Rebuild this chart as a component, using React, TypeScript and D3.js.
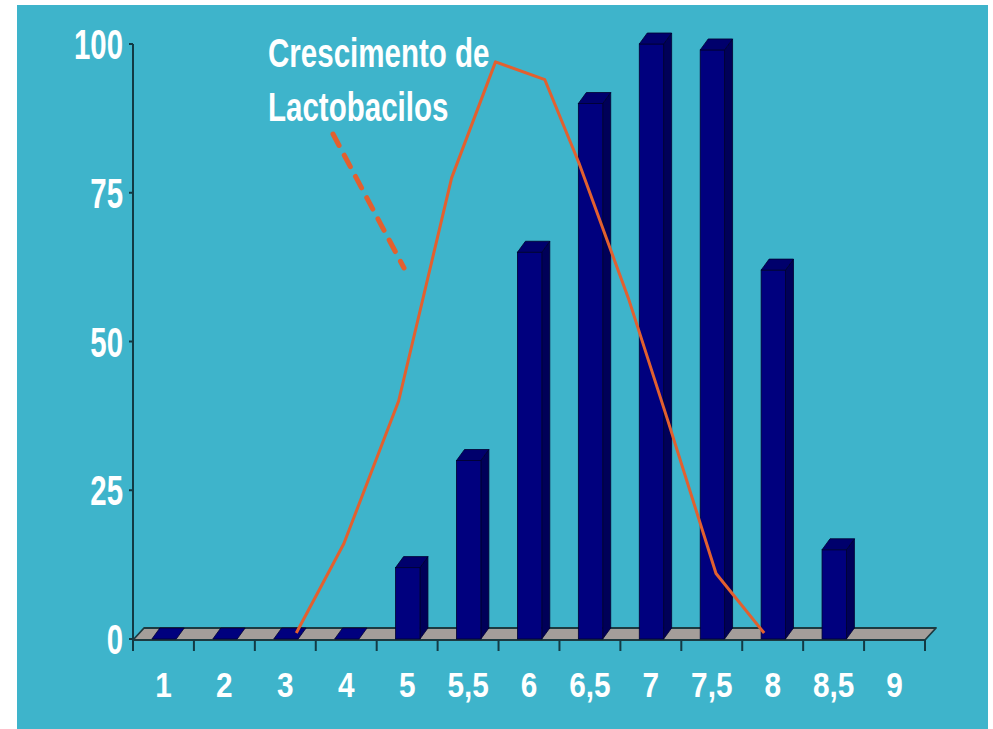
import React from 'react';
import * as d3 from 'd3';

const categories = ['1', '2', '3', '4', '5', '5,5', '6', '6,5', '7', '7,5', '8', '8,5', '9'];
const barValues: (number | null)[] = [0, 0, 0, 0, 12, 30, 65, 90, 100, 99, 62, 15, null];
const yTicks = [0, 25, 50, 75, 100];
// growth curve: position as fractional category index (0 = first category centre), value in %
const curveIndex = [2.18, 2.96, 3.86, 4.73, 5.45, 6.26, 6.82, 7.64, 8.27, 9.07, 9.86];
const curveValues = [1, 16, 40, 77.5, 97, 94, 80, 57, 37, 11, 1];
const annotationLines = ['Crescimento de', 'Lactobacilos'];

const W = 993;
const H = 729;
const TEAL = '#3eb4cb';
const NAVY = '#00007e';
const NAVY_SIDE = '#000058';
const NAVY_TOP = '#00006c';
const ORANGE = '#e2602f';
const FONT = '"Liberation Sans", Arial, sans-serif';

export default function App() {
  const left = 133;
  const right = 925;
  const x = d3.scaleBand<string>().domain(categories).range([left, right]).padding(0);
  const bw = x.bandwidth();
  const y = d3.scaleLinear().domain([0, 100]).range([639, 44]);
  const y0 = y(0);
  const floorDx = 11;
  const floorDy = -12;
  const barDx = 8;
  const barDy = -11;
  const xIdx = d3.scaleLinear().domain([-0.5, categories.length - 0.5]).range([left, right]);

  const line = d3
    .line<number>()
    .x((_, i) => xIdx(curveIndex[i]))
    .y((v) => y(v));

  const floorPath = `M${left},${y0 + 1} L${right},${y0 + 1} L${right + floorDx},${y0 + 1 + floorDy} L${left + floorDx},${y0 + 1 + floorDy} Z`;

  return (
    <svg width={W} height={H} style={{ position: 'absolute', left: 0, top: 0 }}>
      <rect x={0} y={0} width={W} height={H} fill="#ffffff" />
      <rect x={17} y={5} width={971} height={724} fill={TEAL} />

      {/* y axis */}
      <line x1={left} x2={left} y1={y(100)} y2={y0 + 12} stroke="#123a44" strokeWidth={2} />
      {yTicks.map((t) => (
        <g key={t}>
          <line x1={left - 4} x2={left} y1={y(t)} y2={y(t)} stroke="#123a44" strokeWidth={2} />
          <text
            transform={`translate(${123},${y(t)}) scale(0.7,1)`}
            textAnchor="end"
            dy="0.36em"
            fill="#ffffff"
            fontFamily={FONT}
            fontWeight="bold"
            fontSize={42}
          >
            {t}
          </text>
        </g>
      ))}

      {/* floor */}
      <path d={floorPath} fill="#a49e9a" stroke="#1d3a40" strokeWidth={1.8} strokeLinejoin="round" />

      {/* x ticks */}
      {categories.concat(['end']).map((c, i) => {
        const xx = i < categories.length ? (x(c) as number) : right;
        return <line key={'t' + i} x1={xx} x2={xx} y1={y0 + 1} y2={y0 + 12} stroke="#123a44" strokeWidth={2} />;
      })}

      {/* bars */}
      {categories.map((c, i) => {
        const v = barValues[i];
        if (v === null) return null;
        const x0 = (x(c) as number) + bw * 0.31;
        const x1 = x0 + bw * 0.4;
        const yt = y(v);
        const side = `M${x1},${y0} L${x1 + barDx},${y0 + barDy} L${x1 + barDx},${yt + barDy} L${x1},${yt} Z`;
        const top = `M${x0},${yt} L${x1},${yt} L${x1 + barDx},${yt + barDy} L${x0 + barDx},${yt + barDy} Z`;
        return (
          <g key={c}>
            {v > 0 && <path d={side} fill={NAVY_SIDE} stroke="#000030" strokeWidth={0.8} />}
            {v > 0 && <rect x={x0} y={yt} width={x1 - x0} height={y0 - yt} fill={NAVY} stroke="#000030" strokeWidth={0.8} />}
            <path d={top} fill={v > 0 ? NAVY_TOP : NAVY} stroke="#000030" strokeWidth={0.8} />
          </g>
        );
      })}

      {/* growth curve */}
      <path d={line(curveValues) as string} fill="none" stroke={ORANGE} strokeWidth={3} strokeLinejoin="round" />

      {/* annotation */}
      {annotationLines.map((s, i) => (
        <text
          key={s}
          transform={`translate(${268},${67 + i * 54}) scale(0.72,1)`}
          fill="#ffffff"
          fontFamily={FONT}
          fontWeight="bold"
          fontSize={41}
        >
          {s}
        </text>
      ))}
      <line x1={333} y1={134} x2={404} y2={268} stroke={ORANGE} strokeWidth={5} strokeDasharray="13 11" strokeLinecap="round" />

      {/* x labels */}
      {categories.map((c) => (
        <text
          key={'l' + c}
          transform={`translate(${(x(c) as number) + bw / 2},${697}) scale(0.85,1)`}
          textAnchor="middle"
          fill="#ffffff"
          fontFamily={FONT}
          fontWeight="bold"
          fontSize={35}
        >
          {c}
        </text>
      ))}
    </svg>
  );
}
